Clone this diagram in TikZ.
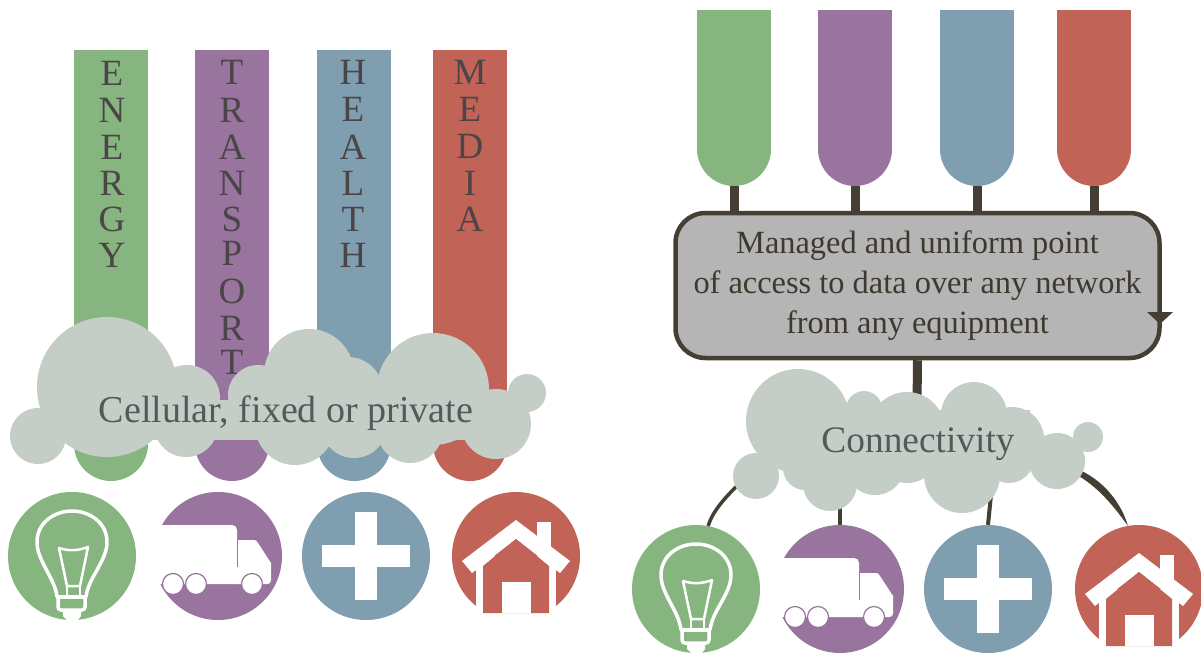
\documentclass[tikz,border=0pt]{standalone}
\usepackage{fontspec}
\setmainfont{Liberation Serif}
\definecolor{cgreen}{HTML}{86B57F}
\definecolor{cpurple}{HTML}{98749E}
\definecolor{cblue}{HTML}{7F9EB0}
\definecolor{cred}{HTML}{C16356}
\definecolor{ccloud}{HTML}{C5CDC7}
\definecolor{cdark}{HTML}{453F33}
\definecolor{cbox}{HTML}{B5B5B5}
\definecolor{cletter}{HTML}{4A4546}
\definecolor{ccltext}{HTML}{55595C}
\tikzset{
  iconc/.style={circle,minimum size=128pt,inner sep=0pt,draw=none},
  ltr/.style={text=cletter,inner sep=0pt,font=\fontsize{37}{37}\selectfont},
  cloudtext/.style={text=ccltext,inner sep=0pt,anchor=base,font=\fontsize{38}{38}\selectfont},
  mgr/.style={draw=cdark,line width=4.5pt,fill=cbox,rounded corners=30pt,minimum width=484pt,minimum height=145pt,inner sep=0pt},
  mgrtext/.style={text=cdark!90!black,inner sep=0pt,align=center,font=\fontsize{32.4}{40}\selectfont},
  stem/.style={draw=cdark,line width=9pt},
  link/.style={draw=cdark},
  cl/.style={fill=ccloud},
  wline/.style={draw=white,line width=3.5pt,line join=round},
}
% bars: x-left, top, bottom, colour
\newcommand{\barshape}[4]{%
  \fill[#4] (#1,#2) rectangle (#1+74,#3-37);
  \fill[#4] (#1+37,#3-37) circle[radius=37pt];}
\newcommand{\iconbulb}[2]{\begin{scope}[shift={(#1,#2)}]
  \draw[wline] (-15,41) .. controls (-17,22) and (-35,5) .. (-35,-14) .. controls (-35,-33) and (-18,-45) .. (0,-45) .. controls (18,-45) and (35,-33) .. (35,-14) .. controls (35,5) and (16,22) .. (14,41);
  \draw[draw=white,line width=2.5pt,line join=round] (-13,-8) .. controls (-4,-5) and (6,-5) .. (16,-9) -- (8,30) -- (-5,30) -- cycle;
  \draw[draw=white,line width=2.5pt] (-5,30) rectangle (8,41);
  \draw[wline] (-16,41) -- (15,41);
  \draw[wline,rounded corners=3pt] (-14,41) -- (-14,54) -- (13,54) -- (13,41);
  \fill[white] (-9,54) -- (-9,60) -- (-5,64) -- (6,64) -- (9,60) -- (9,54) -- cycle;
\end{scope}}
\newcommand{\icontruck}[3]{\begin{scope}[shift={(#1,#2)}]
  \fill[white] (-72,-31) -- (14,-31) .. controls (17,-31) and (19,-29) .. (19,-26) -- (19,28) -- (-72,28) -- cycle;
  \fill[white] (18,-16) -- (36,-16) .. controls (38,-16) and (39,-15) .. (40,-13) -- (53,7) -- (53,24) .. controls (53,27) and (52,28) .. (49,28) -- (18,28) -- cycle;
  \draw[#3,line width=0.8pt] (19,-16) -- (19,11);
  \foreach \wx in {-45,-22,34} \filldraw[fill=white,draw=#3,line width=1.2pt] (\wx,28) circle[radius=10.5pt];
\end{scope}}
\newcommand{\iconcross}[2]{\begin{scope}[shift={(#1,#2)}]
  \fill[white] (-11,-44) rectangle (11,44);
  \fill[white] (-44,-11) rectangle (44,11);
\end{scope}}
\newcommand{\iconhouse}[3]{\begin{scope}[shift={(#1,#2)}]
  \fill[white] (-40,0) rectangle (40,70);
  \fill[white] (21,-34) rectangle (35,-5);
  \fill[white] (0,-36) -- (54,5) -- (44,17) -- (0,-17) -- (-44,17) -- (-54,5) -- cycle;
  \fill[#3] (0,-17) -- (33,10) -- (33,57) -- (-33,57) -- (-33,10) -- cycle;
  \fill[white] (-14,26) rectangle (15,57);
\end{scope}}
\begin{document}
\begin{tikzpicture}[x=1pt,y=-1pt]
\path[use as bounding box,clip] (0,0) rectangle (1201,658);
\fill[white] (0,0) rectangle (1201,658);
%% LEFT
\barshape{74}{50}{481}{cgreen}
\barshape{195}{50}{481}{cpurple}
\barshape{317}{50}{481}{cblue}
\barshape{433}{50}{481}{cred}
\foreach \ch/\yy in {E/73,N/110,E/147,R/183,G/219,Y/255} \node[ltr] (en\yy) at (112,\yy) {\ch};
\foreach \ch/\yy in {T/72,R/110,A/147,N/183,S/219,P/253,O/291,R/328,T/362} \node[ltr] (tr\yy) at (232,\yy) {\ch};
\foreach \ch/\yy in {H/72,E/109,A/147,L/183,T/219,H/255} \node[ltr] (he\yy) at (353,\yy) {\ch};
\foreach \ch/\yy in {M/72,E/109,D/146,I/183,A/219} \node[ltr] (me\yy) at (470,\yy) {\ch};
% left cloud
\foreach \cx/\cy/\cr in {107/387/70, 38/436/28, 187/398/33, 258/395/30, 309/374/45, 348/392/35, 433/389/56, 496/424/35, 527/393/19, 186/425/32, 295/425/40, 354/425/33, 410/430/33}
  \fill[cl] (\cx,\cy) circle[radius=\cr pt];
\fill[cl] (60,400) rectangle (500,440);
\node[cloudtext] (celltext) at (286,422) {Cellular, fixed or private};
% left icons
\node[iconc,fill=cgreen] (lg) at (72,556) {};
\node[iconc,fill=cpurple] (lp) at (218,556) {};
\node[iconc,fill=cblue] (lb) at (366,556) {};
\node[iconc,fill=cred] (lr) at (516,556) {};
\iconbulb{72}{556}
\icontruck{218}{556}{cpurple}
\iconcross{366}{556}
\iconhouse{516}{556}{cred}
%% RIGHT
\barshape{697}{10}{186}{cgreen}
\barshape{818}{10}{186}{cpurple}
\barshape{940}{10}{186}{cblue}
\barshape{1057}{10}{186}{cred}
\coordinate (sg) at (734,186);
\coordinate (sp) at (855,186);
\coordinate (sb) at (977,186);
\coordinate (sr) at (1094,186);
\node[mgr] (box) at (917.5,285.5) {};
\draw[stem] (sg) -- (sg |- box.north);
\draw[stem] (sp) -- (sp |- box.north);
\draw[stem] (sb) -- (sb |- box.north);
\draw[stem] (sr) -- (sr |- box.north);
\node[mgrtext] (boxtext) at (917.5,286) {Managed and uniform point\\of access to data over any network\\from any equipment};
\fill[cdark] (1147,312) -- (1173,312) -- (1160,324) -- cycle;
\coordinate (cloudtop) at (917,405);
\draw[stem] (box.south) -- (cloudtop);
% icons (nodes first for connectors)
\node[iconc,fill=cgreen] (rg) at (696,589) {};
\node[iconc,fill=cpurple] (rp) at (840,589) {};
\node[iconc,fill=cblue] (rb) at (988,589) {};
\node[iconc,fill=cred] (rr) at (1139,589) {};
\coordinate (cg) at (745,478);
\coordinate (cp) at (840,500);
\coordinate (cb) at (991,495);
\coordinate (cr) at (1075,468);
\draw[link,line width=3.5pt] (cg) .. controls (725,497) and (712,512) .. (rg.79);
\draw[link,line width=4.5pt] (cp) -- (rp.90);
\draw[link,line width=4pt] (cb) -- (rb.90);
\fill[cdark] (cr) .. controls (1105,480) and (1122,505) .. (rr.100) .. controls (1115,508) and (1098,486) .. (1075,474) -- cycle;
% right cloud
\foreach \cx/\cy/\cr in {798/421/52, 864/409/18, 907/430/38, 974/415/33, 1012/439/32, 1057/461/28, 1088/437/15, 756/476/23, 830/484/27, 805/468/22, 962/475/38, 907/450/33, 1009/458/25, 875/465/30}
  \fill[cl] (\cx,\cy) circle[radius=\cr pt];
\fill[cl] (820,410) rectangle (1030,470);
\node[cloudtext,font=\fontsize{37.4}{37.4}\selectfont] (conntext) at (918,452) {Connectivity};
\iconbulb{696}{589}
\icontruck{840}{589}{cpurple}
\iconcross{988}{589}
\iconhouse{1139}{589}{cred}
\end{tikzpicture}
\end{document}
